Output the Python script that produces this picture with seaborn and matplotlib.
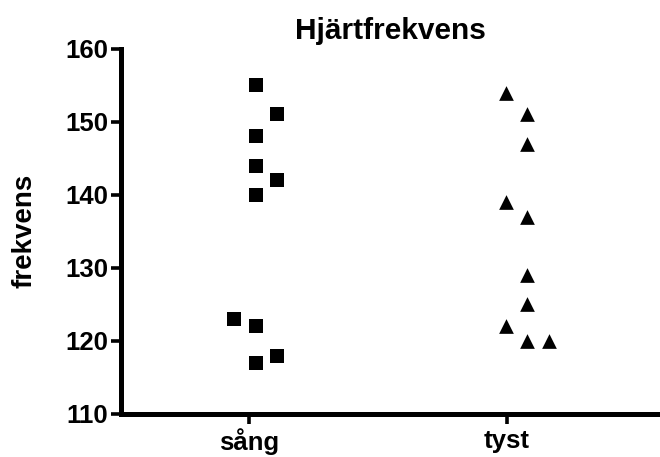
import matplotlib
matplotlib.use("Agg")
import matplotlib.pyplot as plt
import seaborn as sns
import pandas as pd
import numpy as np

# ---- data ----
categories = ["sång", "tyst"]
sang_values = [155, 151, 148, 144, 142, 140, 123, 122, 118, 117]
tyst_values = [154, 151, 147, 139, 137, 129, 125, 122, 120, 120]
yticks = [110, 120, 130, 140, 150, 160]
title = "Hjärtfrekvens"
ylabel = "frekvens"

# ---- layout of the scatter columns (GraphPad-like column scatter) ----
sang_cols = [0, 1, 0, 0, 1, 0, -1, 0, 1, 0]
tyst_cols = [-1, 0, 0, -1, 0, 0, 0, -1, 0, 1]
col_base = [0.024, 0.081]
col_step = 0.084

sns.set_style("ticks")
plt.rcParams['font.family'] = ['Liberation Sans', 'DejaVu Sans']
plt.rcParams['font.weight'] = 'bold'
plt.rcParams['text.color'] = 'black'
plt.rcParams['axes.labelcolor'] = 'black'

def frame(vals, cols, idx):
    return pd.DataFrame({
        "group": categories[idx],
        "value": vals,
        "x": [idx + col_base[idx] + c * col_step for c in cols],
    })

df_s = frame(sang_values, sang_cols, 0)
df_t = frame(tyst_values, tyst_cols, 1)

fig = plt.figure(figsize=(6.6, 4.57), dpi=100)
ax = fig.add_axes([0.1829, 0.0941, 1 - 0.1829, 0.8934 - 0.0941])

sns.scatterplot(data=df_s, x="x", y="value", marker="s", s=98, color="black",
                linewidth=0, ax=ax, legend=False)
sns.scatterplot(data=df_t, x="x", y="value", marker="^", s=112, color="black",
                linewidth=0, ax=ax, legend=False)

ax.set_xlim(-0.5, 1.596)
ax.set_ylim(110, 160)
ax.set_xticks(range(len(categories)))
ax.set_xticklabels(categories)
ax.set_yticks(yticks)
ax.set_yticklabels([str(v) for v in yticks])

for side in ["top", "right"]:
    ax.spines[side].set_visible(False)
for side in ["left", "bottom"]:
    ax.spines[side].set_linewidth(3.6)
    ax.spines[side].set_color("black")
    ax.spines[side].set_capstyle("projecting")

ax.tick_params(axis="both", which="major", length=7.5, width=2.6, color="black",
               labelsize=18.5, labelcolor="black")
ax.tick_params(axis="y", pad=1.5)
ax.tick_params(axis="x", pad=3.0)
for lab in ax.get_xticklabels() + ax.get_yticklabels():
    lab.set_fontweight("bold")

ax.set_xlabel("")
ax.set_ylabel(ylabel, fontsize=20, fontweight="bold", labelpad=20, color="black")
ax.set_title(title, fontsize=21.5, fontweight="bold", pad=7.0, color="black")

fig.savefig("out.png", dpi=100)
